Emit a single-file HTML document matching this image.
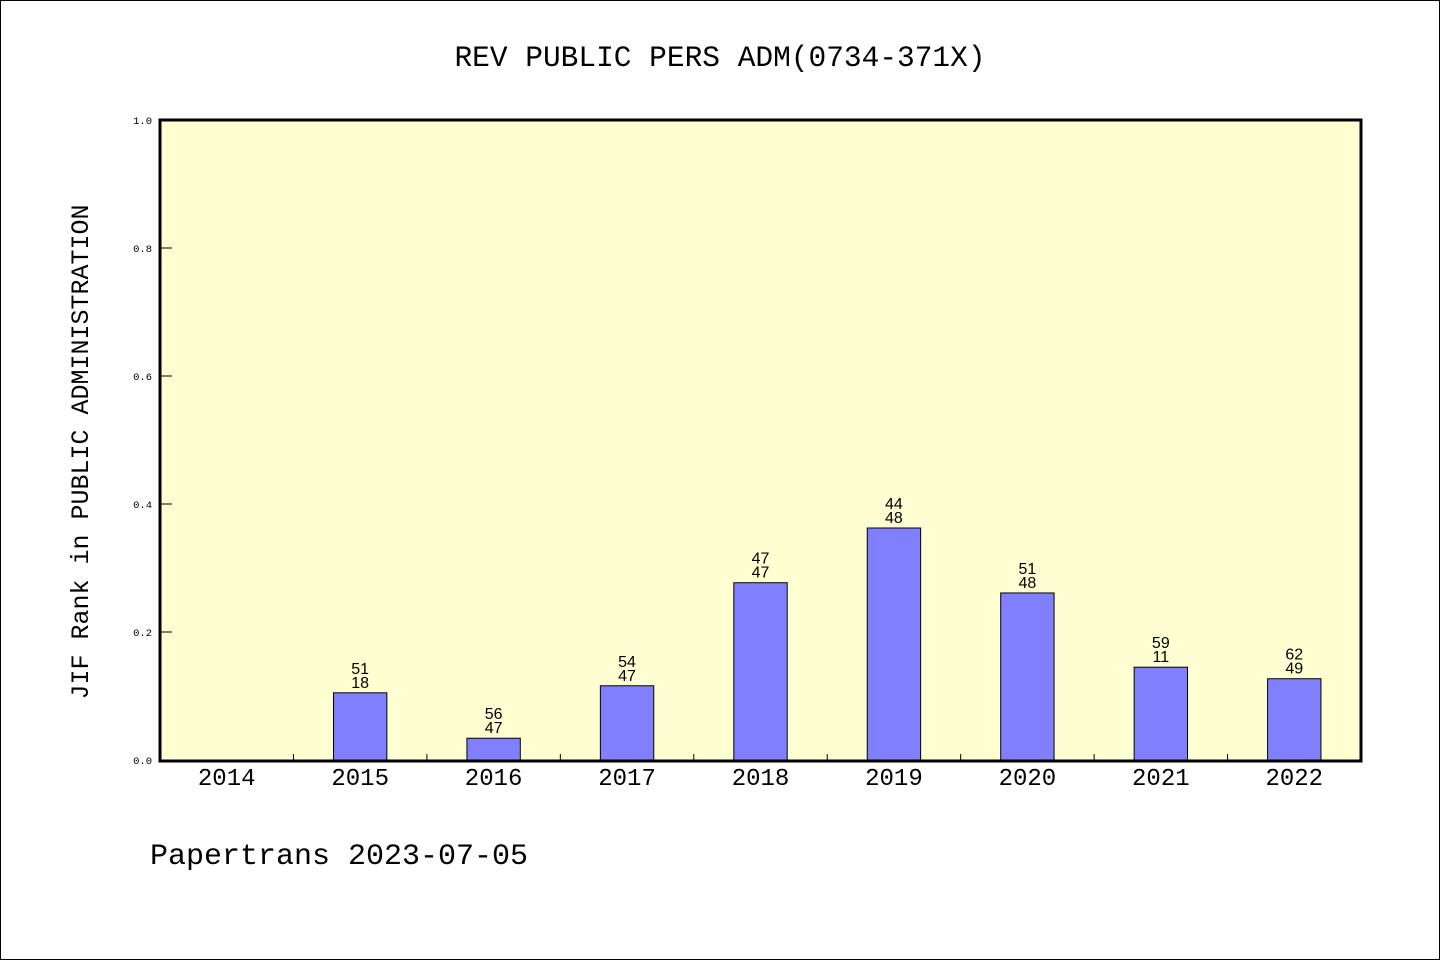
<!DOCTYPE html>
<html><head><meta charset="utf-8"><style>
body{margin:0;background:#fff}
svg text{font-family:"Liberation Mono","DejaVu Sans Mono",monospace;fill:#000}
svg text.bl{font-family:"Liberation Sans","DejaVu Sans",sans-serif}
</style></head><body>
<svg width="1440" height="960" viewBox="0 0 1440 960">
<rect x="0.5" y="0.5" width="1439" height="959" fill="#fff" stroke="#000"/>
<text x="720" y="66" font-size="29.5" text-anchor="middle">REV PUBLIC PERS ADM(0734-371X)</text>
<rect x="160" y="120" width="1201" height="641" fill="#ffffd2"/>
<g id="ticks"></g>
<g id="bars"></g>
<rect x="160" y="120" width="1201" height="641" fill="none" stroke="#000" stroke-width="3"/>
<text transform="translate(88,452) rotate(-90)" font-size="25" text-anchor="middle">JIF Rank in PUBLIC ADMINISTRATION</text>
<text x="150" y="864" font-size="30">Papertrans 2023-07-05</text>
</svg>
<script>
const categories=["2014","2015","2016","2017","2018","2019","2020","2021","2022"];
const values=[0,0.105,0.034,0.116,0.277,0.3625,0.261,0.145,0.127];
const topLabels=["","51","56","54","47","44","51","59","62"];
const bottomLabels=["","18","47","47","47","48","48","11","49"];
const yTicks=[0,0.2,0.4,0.6,0.8,1.0];
const NS="http://www.w3.org/2000/svg";
const x0=160,x1=1361,y0=760,y1=120;
const slot=(x1-x0)/categories.length;
const xc=i=>x0+slot*(i+0.5);
const ys=v=>y0-(y0-y1)*v;
function mk(tag,attrs,parent){const e=document.createElementNS(NS,tag);for(const k in attrs)e.setAttribute(k,attrs[k]);parent.appendChild(e);return e;}
const tg=document.getElementById('ticks'),bg=document.getElementById('bars');
yTicks.forEach(t=>{
 const l=mk('line',{x1:x0,x2:x0+12,y1:ys(t),y2:ys(t),stroke:'#000','stroke-width':1},tg);
 
 
 const tx=mk('text',{x:152,y:ys(t)+4,'font-size':10.5,'text-anchor':'end'},tg);
 tx.textContent=t.toFixed(1);
 
 
});
categories.forEach((c,i)=>{
 if(i>0){const l=mk('line',{x1:x0+slot*i,x2:x0+slot*i,y1:y0,y2:y0-6,stroke:'#000','stroke-width':1},tg);
 
 }
 const tx=mk('text',{x:xc(i),y:785,'font-size':24,'text-anchor':'middle'},tg);
 tx.textContent=c;
 
 
 if(values[i]>0){
  const w=slot*0.4,top=ys(values[i]);
  const r=mk('rect',{x:xc(i)-w/2,y:top,width:w,height:y0-top,fill:'#8080ff',stroke:'#000','stroke-width':1},bg);
  
  
  const a=mk('text',{x:xc(i),y:top-19,'font-size':16,'text-anchor':'middle','class':'bl'},bg);
  a.textContent=topLabels[i];
  
  
  const b=mk('text',{x:xc(i),y:top-5,'font-size':16,'text-anchor':'middle','class':'bl'},bg);
  b.textContent=bottomLabels[i];
  
  
 }
});
</script>
</body></html>
